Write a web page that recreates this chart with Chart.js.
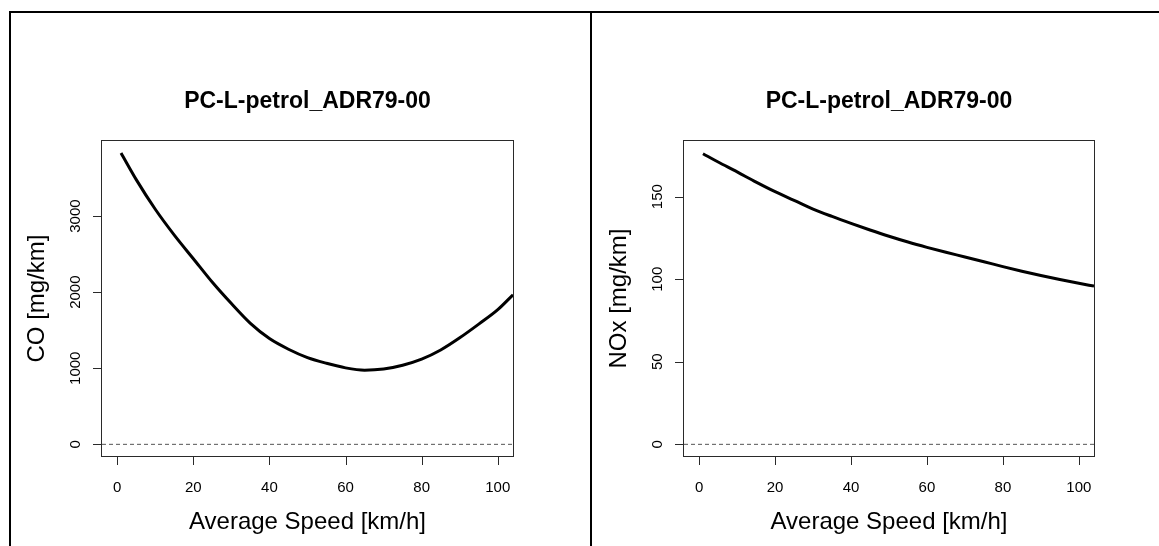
<!DOCTYPE html>
<html>
<head>
<meta charset="utf-8">
<script src="https://cdn.jsdelivr.net/npm/chart.js@4/dist/chart.umd.min.js"></script>
<style>
  body { margin: 0; background: #fff; width: 1159px; height: 546px; overflow: hidden; position: relative; }
  .rule { position: absolute; background: #000; }
  canvas { position: absolute; top: 0; }
</style>
</head>
<body>
<div class="rule" style="left:9px;top:11px;width:1150px;height:2px"></div>
<div class="rule" style="left:9px;top:11px;width:2px;height:535px"></div>
<div class="rule" style="left:590px;top:11px;width:2px;height:535px"></div>
<canvas id="coChart" style="left:0" width="590" height="546"></canvas>
<canvas id="noxChart" style="left:593px" width="566" height="546"></canvas>
<script>
// data
const speeds = [1, 5, 10, 15, 20, 25, 30, 35, 40, 45, 50, 55, 60, 65, 70, 75, 80, 85, 90, 95, 100, 104];
const coValues = [3830, 3480, 3090, 2750, 2440, 2130, 1850, 1590, 1390, 1250, 1140, 1065, 1005, 975, 990, 1040, 1120, 1240, 1400, 1580, 1770, 1965];
const noxValues = [176, 171, 165, 158.8, 153, 147.8, 142.5, 138, 133.8, 129.8, 126, 122.5, 119.3, 116.3, 113.5, 110.6, 107.6, 104.8, 102.2, 99.8, 97.6, 95.8];
const zeroLineX = [-4, 104];
const xTicks = [0, 20, 40, 60, 80, 100];
const coTicks = [0, 1000, 2000, 3000];
const noxTicks = [0, 50, 100, 150];

const plotTitle = "PC-L-petrol_ADR79-00";
const xTitle = "Average Speed [km/h]";
const fontFamily = "'Liberation Sans', Arial, Helvetica, sans-serif";

// R-style box, ticks and labels drawn from the chart's own scales
const rAxesPlugin = {
    id: "rAxes",
    afterDraw(chart, args, opts) {
        const ctx = chart.ctx;
        const area = chart.chartArea;
        const xs = chart.scales.x;
        const ys = chart.scales.y;
        ctx.save();
        ctx.strokeStyle = "#2a2a2a";
        ctx.lineWidth = 1;
        ctx.strokeRect(area.left - 0.5, area.top - 0.5, area.right - area.left + 1, area.bottom - area.top + 1);

        ctx.fillStyle = "#000";
        ctx.font = "15px " + fontFamily;
        ctx.textAlign = "center";
        ctx.textBaseline = "middle";
        ctx.beginPath();
        opts.xTicks.forEach(v => {
            const px = Math.round(xs.getPixelForValue(v)) + 0.5;
            ctx.moveTo(px, area.bottom);
            ctx.lineTo(px, area.bottom + 9);
        });
        opts.yTicks.forEach(v => {
            const py = Math.round(ys.getPixelForValue(v)) + 0.5;
            ctx.moveTo(area.left, py);
            ctx.lineTo(area.left - 9, py);
        });
        ctx.stroke();

        opts.xTicks.forEach(v => {
            ctx.fillText(String(v), xs.getPixelForValue(v), area.bottom + 32);
        });
        opts.yTicks.forEach(v => {
            ctx.save();
            ctx.translate(area.left - 26, ys.getPixelForValue(v));
            ctx.rotate(-Math.PI / 2);
            ctx.fillText(String(v), 0, 0);
            ctx.restore();
        });

        const cx = (area.left + area.right) / 2;
        const cy = (area.top + area.bottom) / 2;
        ctx.font = "24px " + fontFamily;
        ctx.fillText(opts.xTitle, cx, area.bottom + 66);
        ctx.save();
        ctx.translate(area.left - 65, cy);
        ctx.rotate(-Math.PI / 2);
        ctx.fillText(opts.yTitle, 0, 0);
        ctx.restore();

        ctx.font = "bold 23px " + fontFamily;
        ctx.fillText(opts.title, cx, area.top - 39);
        ctx.restore();
    }
};

function makeChart(id, values, yMin, yMax, yTicks, yTitle, padding) {
    const ctx = document.getElementById(id).getContext("2d");
    return new Chart(ctx, {
        type: "line",
        data: {
            datasets: [
                {
                    data: zeroLineX.map(x => ({ x: x, y: 0 })),
                    borderColor: "#555",
                    borderWidth: 1,
                    borderDash: [4, 3],
                    pointRadius: 0
                },
                {
                    data: speeds.map((s, i) => ({ x: s, y: values[i] })),
                    borderColor: "#000",
                    borderWidth: 3,
                    pointRadius: 0,
                    cubicInterpolationMode: "monotone"
                }
            ]
        },
        options: {
            responsive: false,
            animation: false,
            layout: { padding: padding },
            plugins: {
                legend: { display: false },
                tooltip: { enabled: false },
                rAxes: { xTicks: xTicks, yTicks: yTicks, xTitle: xTitle, yTitle: yTitle, title: plotTitle }
            },
            scales: {
                x: { type: "linear", min: -4, max: 104, display: false },
                y: { type: "linear", min: yMin, max: yMax, display: false }
            }
        },
        plugins: [rAxesPlugin]
    });
}

makeChart("coChart", coValues, -153.4, 3987.4, coTicks, "CO [mg/km]",
    { left: 102, right: 77, top: 141, bottom: 90 });
makeChart("noxChart", noxValues, -7.06, 183.7, noxTicks, "NOx [mg/km]",
    { left: 91, right: 65, top: 141, bottom: 90 });
</script>
</body>
</html>
